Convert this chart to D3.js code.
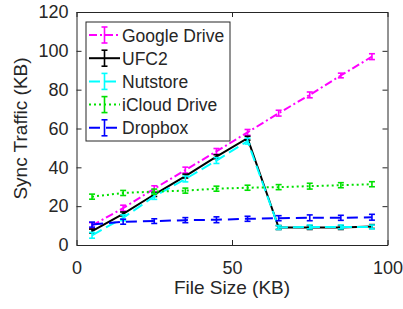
<!DOCTYPE html>
<html>
<head>
<meta charset="utf-8">
<script src="https://cdn.jsdelivr.net/npm/d3@7"></script>
<style>
  body { margin: 0; background: #fff; }
  text { font-family: "Liberation Sans", Arial, sans-serif; fill: #262626; }
</style>
</head>
<body>
<svg id="canvas"></svg>
<script>
// data
const fileSizes = [5, 15, 25, 35, 45, 55, 65, 75, 85, 95];
const googleDrive = [10, 19, 29, 38.6, 48.2, 58, 67.9, 77.3, 87.3, 97];
const ufc2 = [7.2, 16, 26, 35.5, 45.5, 55, 9, 9, 9, 9.5];
const nutstore = [5, 14, 25, 34, 43.5, 53.5, 9, 9.3, 9.3, 9.3];
const icloudDrive = [24.9, 26.8, 27.5, 28, 29, 29.5, 29.8, 30.3, 30.8, 31.3];
const dropbox = [10.5, 12, 12.3, 12.8, 13, 13.5, 13.8, 14, 14, 14.3];
const errGoogle = [1.5, 1.5, 1.5, 1.5, 1.5, 1.5, 1.5, 1.5, 1.2, 1.5];
const errUfc2 = [1, 1, 1, 1, 1, 1, 1, 1, 1, 1];
const errNutstore = [1.5, 1.5, 1.5, 1.5, 1.5, 1.5, 1, 1, 1, 1];
const errIcloud = [1.3, 1.3, 1.3, 1.3, 1.3, 1.3, 1.3, 1.5, 1.3, 1.3];
const errDropbox = [1.3, 1.3, 1.2, 1.3, 1.5, 1.3, 1.3, 1.5, 1.3, 1.5];
const xTicks = [0, 50, 100];
const yTicks = [0, 20, 40, 60, 80, 100, 120];

const series = [
  {name: "Google Drive", values: googleDrive, err: errGoogle, color: "#ff00ff", dash: "8,3,2,3"},
  {name: "UFC2", values: ufc2, err: errUfc2, color: "#000000", dash: null},
  {name: "Nutstore", values: nutstore, err: errNutstore, color: "#00ffff", dash: "11,5"},
  {name: "iCloud Drive", values: icloudDrive, err: errIcloud, color: "#00e000", dash: "2,3"},
  {name: "Dropbox", values: dropbox, err: errDropbox, color: "#0000ff", dash: "11,6"}
];

const width = 403, height = 309;
const svg = d3.select("#canvas").attr("width", width).attr("height", height);

const marginLeft = 76.5, marginRight = 15.5, marginTop = 12, marginBottom = 64;

const xScale = d3.scaleLinear().domain([0, 100]).range([marginLeft, width - marginRight]);
const yScale = d3.scaleLinear().domain([0, 120]).range([height - marginBottom, marginTop]);

// axes with inward ticks
const axisColor = "#262626";
const gx = svg.append("g")
  .attr("transform", `translate(0,${height - marginBottom})`)
  .call(d3.axisBottom(xScale).tickValues(xTicks).tickSize(-5).tickPadding(16).tickSizeOuter(0));
const gy = svg.append("g")
  .attr("transform", `translate(${marginLeft},0)`)
  .call(d3.axisLeft(yScale).tickValues(yTicks).tickSize(-5).tickPadding(8).tickSizeOuter(0));
const gxTop = svg.append("g")
  .attr("transform", `translate(0,${marginTop})`)
  .call(d3.axisTop(xScale).tickValues(xTicks).tickSize(-5).tickFormat("").tickSizeOuter(0));
const gyRight = svg.append("g")
  .attr("transform", `translate(${width - marginRight},0)`)
  .call(d3.axisRight(yScale).tickValues(yTicks).tickSize(-5).tickFormat("").tickSizeOuter(0));
[gx, gy, gxTop, gyRight].forEach(g => {
  g.selectAll("path, line").attr("stroke", axisColor).attr("stroke-width", 1);
  g.selectAll("text").attr("font-size", 18).attr("fill", axisColor)
    .style("font-family", "'Liberation Sans', Arial, sans-serif");
});

// axis labels
svg.append("text")
  .attr("x", (marginLeft + width - marginRight) / 2)
  .attr("y", 294)
  .attr("text-anchor", "middle")
  .attr("font-size", 19)
  .text("File Size (KB)");
svg.append("text")
  .attr("transform", `translate(27,${(marginTop + height - marginBottom) / 2}) rotate(-90)`)
  .attr("text-anchor", "middle")
  .attr("font-size", 19)
  .text("Sync Traffic (KB)");

const line = d3.line()
  .x((d, i) => xScale(fileSizes[i]))
  .y(d => yScale(d));

// series
series.forEach(s => {
  const g = svg.append("g");
  g.append("path")
    .datum(s.values)
    .attr("d", line)
    .attr("fill", "none")
    .attr("stroke", s.color)
    .attr("stroke-width", 2)
    .attr("stroke-dasharray", s.dash);
  const bars = g.selectAll("g.err")
    .data(s.values)
    .join("g")
    .attr("stroke", s.color)
    .attr("stroke-width", 1.6);
  bars.append("line")
    .attr("x1", (d, i) => xScale(fileSizes[i]))
    .attr("x2", (d, i) => xScale(fileSizes[i]))
    .attr("y1", (d, i) => yScale(d - s.err[i]))
    .attr("y2", (d, i) => yScale(d + s.err[i]));
  bars.append("line")
    .attr("x1", (d, i) => xScale(fileSizes[i]) - 3)
    .attr("x2", (d, i) => xScale(fileSizes[i]) + 3)
    .attr("y1", (d, i) => yScale(d - s.err[i]))
    .attr("y2", (d, i) => yScale(d - s.err[i]));
  bars.append("line")
    .attr("x1", (d, i) => xScale(fileSizes[i]) - 3)
    .attr("x2", (d, i) => xScale(fileSizes[i]) + 3)
    .attr("y1", (d, i) => yScale(d + s.err[i]))
    .attr("y2", (d, i) => yScale(d + s.err[i]));
});

// legend
const legend = svg.append("g").attr("transform", "translate(86,22)");
legend.append("rect")
  .attr("width", 144).attr("height", 119)
  .attr("fill", "#fff").attr("stroke", axisColor).attr("stroke-width", 1);
series.forEach((s, i) => {
  const y = 13 + i * 23.2;
  const item = legend.append("g").attr("transform", `translate(0,${y})`);
  item.append("line")
    .attr("x1", 3).attr("x2", 34).attr("y1", 0).attr("y2", 0)
    .attr("stroke", s.color).attr("stroke-width", 2)
    .attr("stroke-dasharray", s.dash);
  item.append("line")
    .attr("x1", 18.5).attr("x2", 18.5).attr("y1", -8).attr("y2", 8)
    .attr("stroke", s.color).attr("stroke-width", 1.6);
  [-8, 8].forEach(dy => item.append("line")
    .attr("x1", 15.5).attr("x2", 21.5).attr("y1", dy).attr("y2", dy)
    .attr("stroke", s.color).attr("stroke-width", 1.6));
  item.append("text")
    .attr("x", 36).attr("y", 6.5)
    .attr("font-size", 17.5)
    .text(s.name);
});
</script>
</body>
</html>
